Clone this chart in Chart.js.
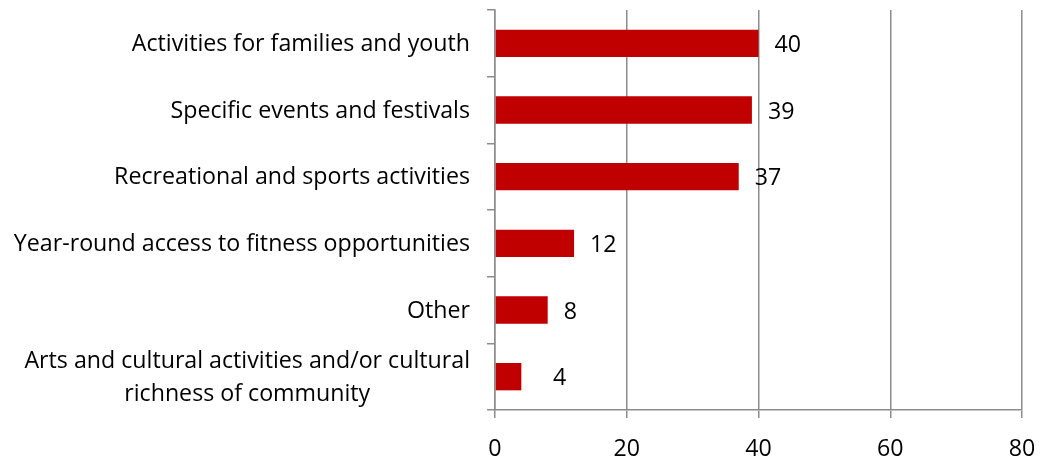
<!DOCTYPE html>
<html>
<head>
<meta charset="utf-8">
<script src="https://cdn.jsdelivr.net/npm/chart.js@4.4.1/dist/chart.umd.min.js"></script>
<style>
  html, body { margin: 0; padding: 0; background: #fff; }
  #wrap { width: 1047px; height: 458px; position: relative; }
</style>
</head>
<body>
<div id="wrap"><canvas id="chart"></canvas></div>
<script>
// Reasons given, ordered by count
const categories = [
  ['Activities for families and youth'],
  ['Specific events and festivals'],
  ['Recreational and sports activities'],
  ['Year-round access to fitness opportunities'],
  ['Other'],
  ['Arts and cultural activities and/or cultural', 'richness of community']
];
const counts = [40, 39, 37, 12, 8, 4];
const xTicks = [0, 20, 40, 60, 80];

const FONT = '"Open Sans", "DejaVu Sans", sans-serif';
const FONT_SIZE = 23.2;
const BAR_RED = '#C00000';
const AXIS_GREY = '#8c8c8c';

// value labels sit just past the end of each bar
const valueLabels = {
    id: 'valueLabels',
    afterDatasetsDraw(chart) {
        const ctx = chart.ctx;
        const meta = chart.getDatasetMeta(0);
        ctx.save();
        ctx.font = `${FONT_SIZE}px ${FONT}`;
        ctx.fillStyle = '#000';
        ctx.textAlign = 'left';
        ctx.textBaseline = 'middle';
        meta.data.forEach((bar, i) => {
            // very short bars get their label pushed a little further out
            const x = Math.max(bar.x + 16, chart.chartArea.left + 58);
            ctx.fillText(String(counts[i]), x, bar.y + 2);
        });
        ctx.restore();
    }
};

// category names drawn as right-aligned blocks, lines centred within a block
const categoryLabels = {
    id: 'categoryLabels',
    afterDraw(chart) {
        const ctx = chart.ctx;
        const yScale = chart.scales.y;
        const right = yScale.right - 25;
        const lineHeight = 33;
        ctx.save();
        ctx.font = `${FONT_SIZE}px ${FONT}`;
        ctx.fillStyle = '#000';
        ctx.textBaseline = 'middle';
        ctx.textAlign = 'center';
        categories.forEach((lines, i) => {
            const cy = yScale.getPixelForValue(i);
            const maxW = Math.max(...lines.map(l => ctx.measureText(l).width));
            const cx = right - maxW / 2;
            const top = cy - (lines.length - 1) * lineHeight / 2;
            lines.forEach((line, j) => {
                ctx.fillText(line, cx, top + j * lineHeight + 1);
            });
        });
        ctx.restore();
    }
};

const chart = new Chart(document.getElementById('chart'), {
    type: 'bar',
    data: {
        labels: categories.map(c => c.join(' ')),
        datasets: [{
            data: counts,
            backgroundColor: BAR_RED,
            borderWidth: 0,
            barPercentage: 0.41,
            categoryPercentage: 1
        }]
    },
    options: {
        indexAxis: 'y',
        responsive: true,
        maintainAspectRatio: false,
        animation: false,
        layout: { padding: { top: 10, right: 25, left: 0, bottom: 0 } },
        plugins: {
            legend: { display: false },
            tooltip: { enabled: false }
        },
        scales: {
            x: {
                min: 0,
                max: 80,
                afterBuildTicks(scale) {
                    scale.ticks = xTicks.map(v => ({ value: v }));
                },
                afterFit(scale) {
                    scale.height = 48;
                    scale.paddingLeft = 0;
                    scale.paddingRight = 0;
                },
                ticks: {
                    color: '#000',
                    padding: 17,
                    font: { family: FONT, size: FONT_SIZE }
                },
                grid: {
                    color: AXIS_GREY,
                    lineWidth: 1.5,
                    tickLength: 8
                },
                border: { color: AXIS_GREY, width: 1.5 }
            },
            y: {
                afterFit(scale) { scale.width = 495; },
                ticks: { display: false },
                grid: {
                    offset: true,
                    drawOnChartArea: false,
                    color: AXIS_GREY,
                    lineWidth: 1.5,
                    tickLength: 8
                },
                border: { color: AXIS_GREY, width: 1.5 }
            }
        }
    },
    plugins: [valueLabels, categoryLabels]
});
</script>
</body>
</html>
